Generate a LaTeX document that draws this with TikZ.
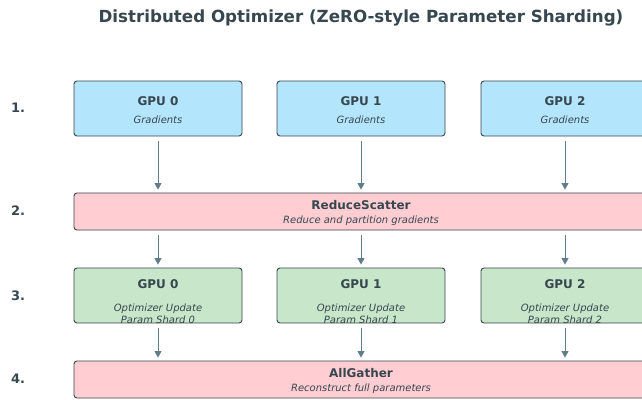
\documentclass[tikz,border=0pt]{standalone}
\usepackage{fontspec}
\setmainfont{DejaVu Sans}
\usetikzlibrary{arrows.meta}
\definecolor{ink}{HTML}{37474F}
\definecolor{arrowc}{HTML}{607D8B}
\definecolor{gradfill}{HTML}{B3E5FC}
\definecolor{collfill}{HTML}{FFCDD2}
\definecolor{optfill}{HTML}{C8E6C9}
\tikzset{
  box/.style={draw=ink, line width=0.9pt, rounded corners=3pt, inner sep=0pt, minimum height=55pt, minimum width=168pt},
  widebox/.style={box, minimum width=574pt, minimum height=37pt},
  head/.style={text=ink, font=\bfseries\fontsize{12}{13}\selectfont, inner sep=0pt},
  sub/.style={text=ink, font=\itshape\fontsize{10}{11}\selectfont, inner sep=0pt},
  steplabel/.style={text=ink, font=\bfseries\fontsize{13}{14}\selectfont, inner sep=0pt},
  flow/.style={draw=arrowc, line width=0.9pt, -{Triangle[length=6.5pt,width=7pt]}, shorten <=5pt, shorten >=3pt}
}
\begin{document}
\begin{tikzpicture}[x=1pt,y=-1pt]
\useasboundingbox (0,0) rectangle (642,399);
\clip (0,0) rectangle (642,399);
\fill[white] (0,0) rectangle (642,399);

\node[text=ink, font=\bfseries\fontsize{16.7}{18}\selectfont, inner sep=0pt] (title) at (361,17.5) {Distributed Optimizer (ZeRO-style Parameter Sharding)};

% step numbers
\node[steplabel] (s1) at (18,108) {1.};
\node[steplabel] (s2) at (18,211) {2.};
\node[steplabel] (s3) at (18,296) {3.};
\node[steplabel] (s4) at (18,379) {4.};

% row 1: gradients on each GPU
\foreach \i/\x in {0/158,1/361,2/565} {
  \node[box, fill=gradfill] (g\i) at (\x,108.5) {};
  \node[head] (gh\i) at (\x,101) {GPU \i};
  \node[sub] (gs\i) at (\x,119.5) {Gradients};
}

% row 2: reduce-scatter
\node[widebox, fill=collfill] (rs) at (361,211.5) {};
\node[head] (rsh) at (361,205.5) {ReduceScatter};
\node[sub] (rss) at (361,220.5) {Reduce and partition gradients};

% row 3: optimizer step on each shard
\foreach \i/\x in {0/158,1/361,2/565} {
  \node[box, fill=optfill] (o\i) at (\x,295.5) {};
  \node[head] (oh\i) at (\x,284) {GPU \i};
  \node[sub] (os\i) at (\x,308.5) {Optimizer Update};
  \node[sub] (op\i) at (\x,319.5) {Param Shard \i};
}

% row 4: all-gather
\node[widebox, fill=collfill] (ag) at (361,379.5) {};
\node[head] (agh) at (361,373.5) {AllGather};
\node[sub] (ags) at (361,388.5) {Reconstruct full parameters};

% connectors
\foreach \i in {0,1,2} {
  \draw[flow] (g\i.south) -- (g\i.south |- rs.north);
  \draw[flow] (o\i.north |- rs.south) -- (o\i.north);
  \draw[flow] (o\i.south) -- (o\i.south |- ag.north);
}
\end{tikzpicture}
\end{document}
